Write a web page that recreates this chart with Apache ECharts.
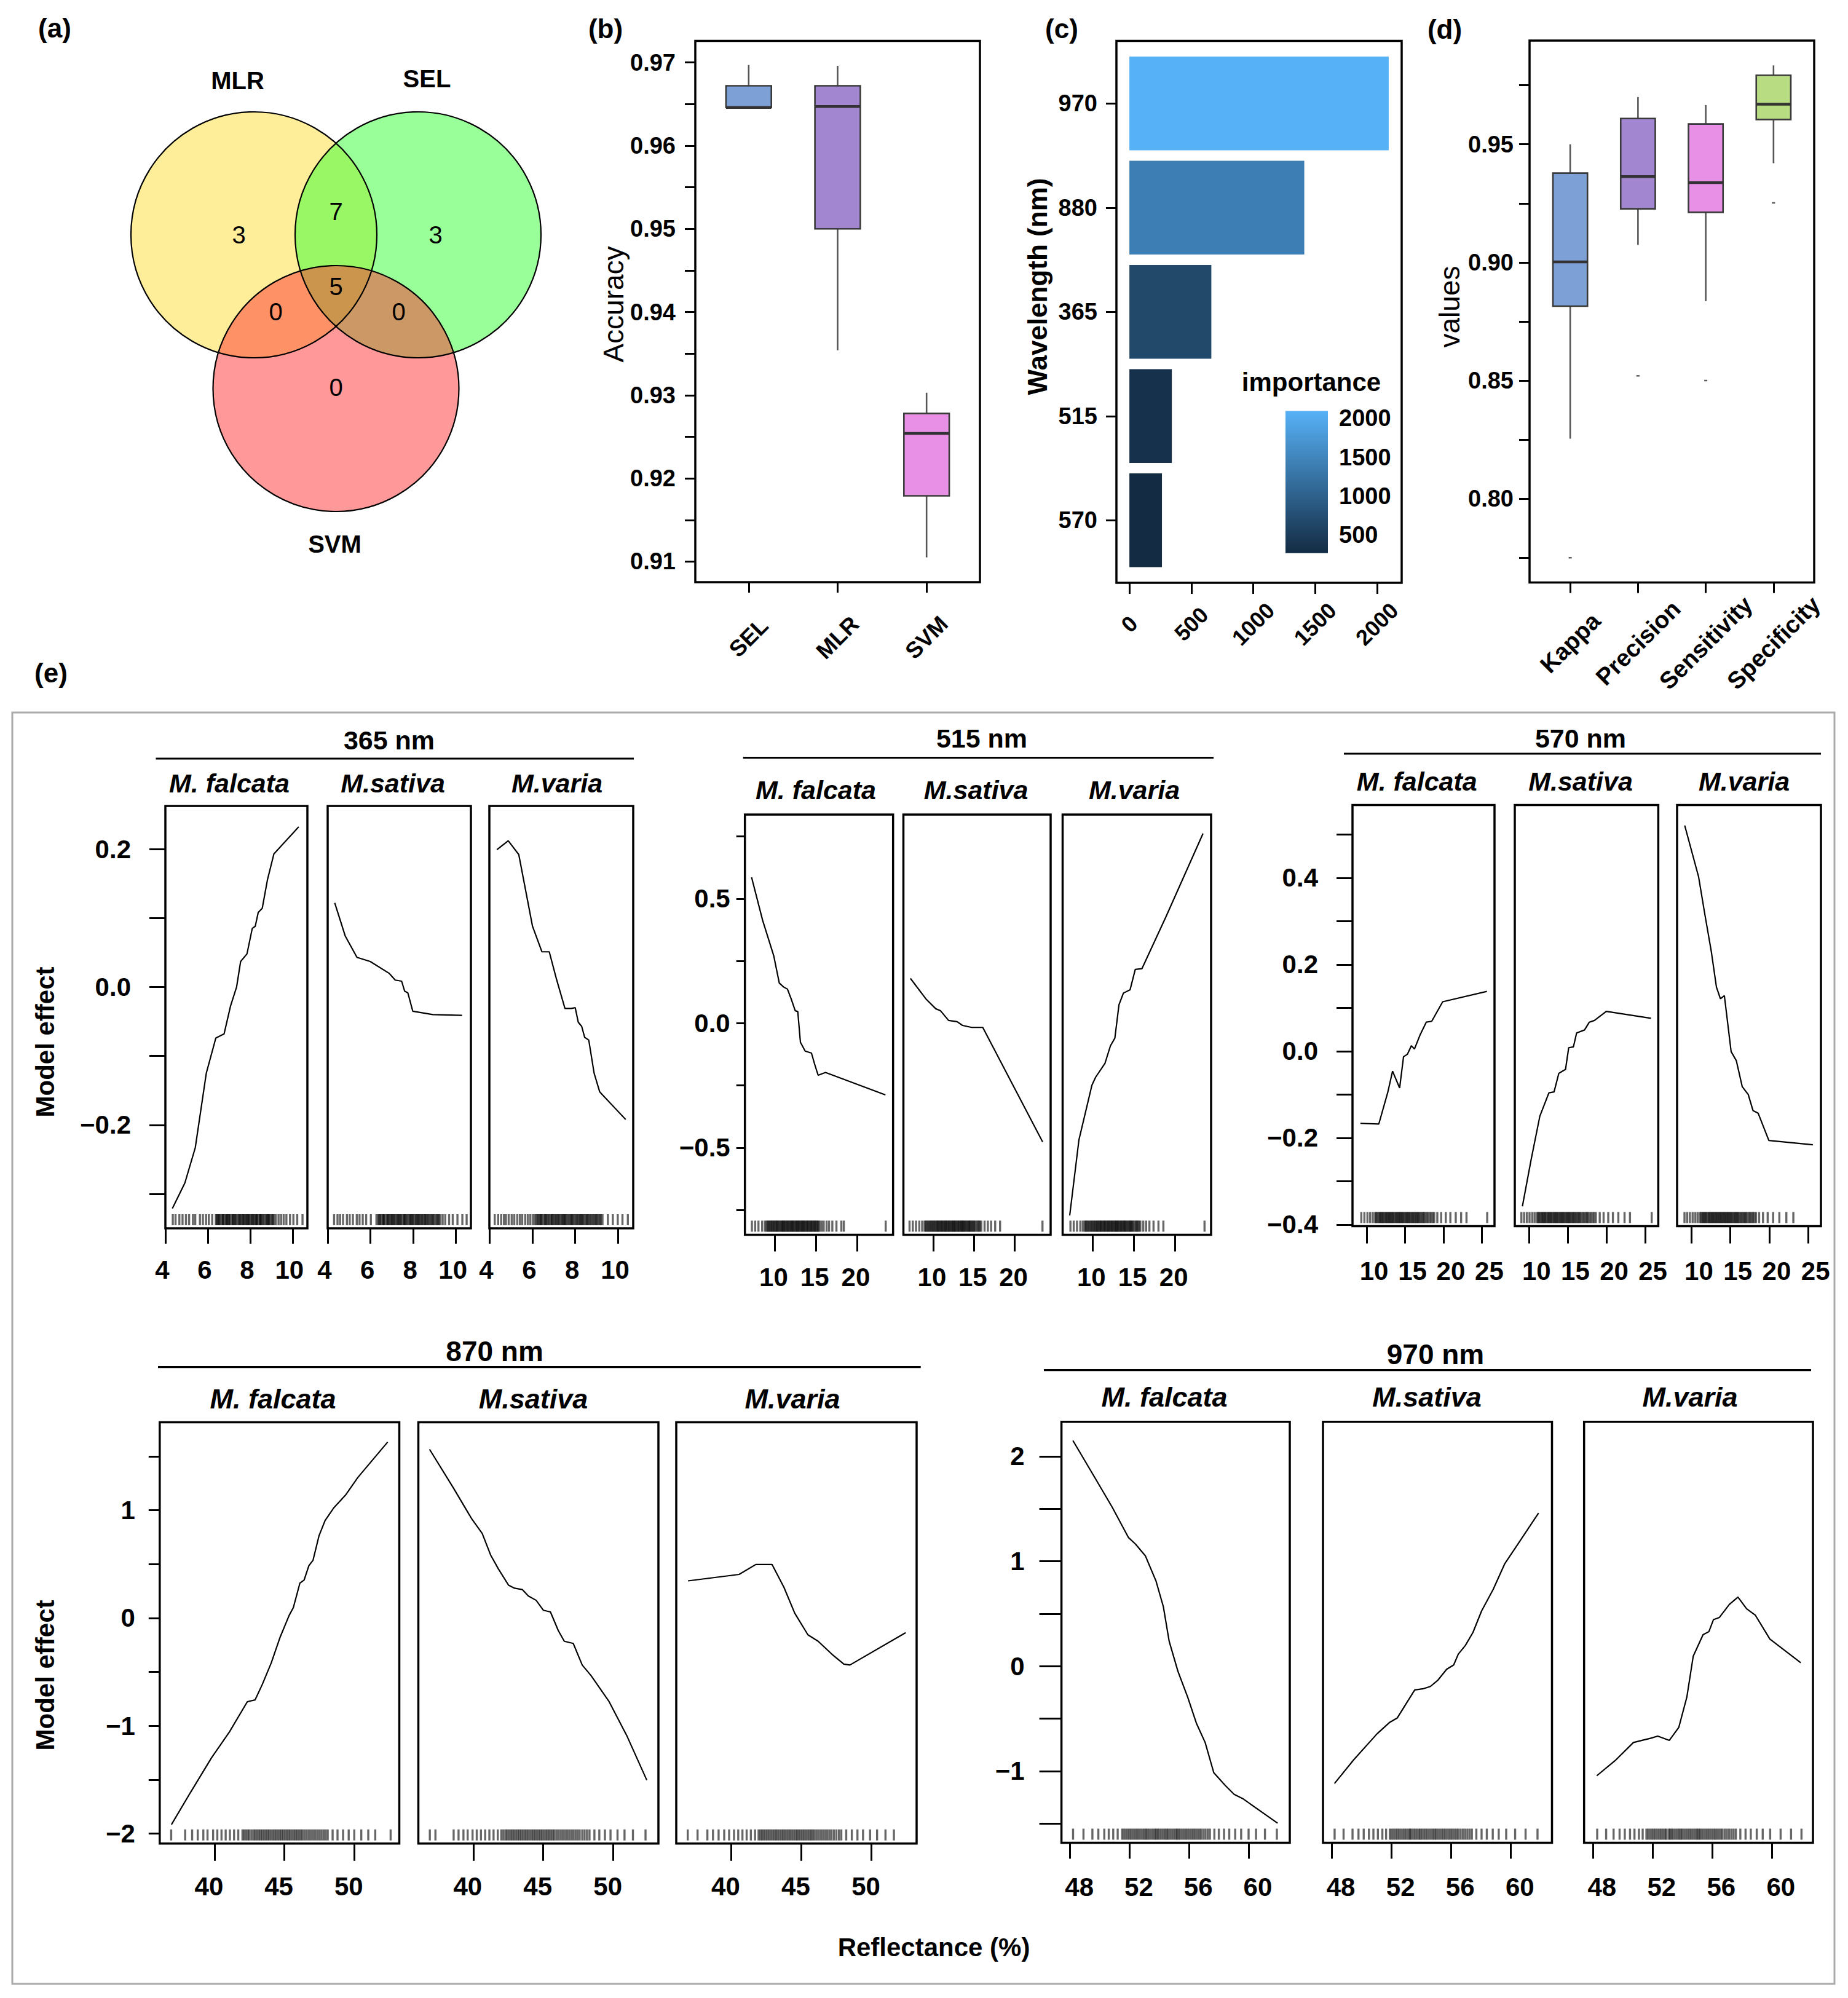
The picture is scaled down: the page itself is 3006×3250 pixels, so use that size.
<!DOCTYPE html>
<html><head><meta charset="utf-8">
<script src="https://cdn.jsdelivr.net/npm/echarts@6/dist/echarts.min.js"></script>
<style>html,body{margin:0;padding:0;background:#fff}#c{width:3006px;height:3250px}</style>
</head><body><div id="c"></div>
<script>
// ================= DATA =================
// (a) Venn
const vennSets = ['MLR', 'SEL', 'SVM'];
// MLR only, MLR∩SEL, SEL only, all three, MLR∩SVM, SEL∩SVM, SVM only
const vennCounts = [3, 7, 3, 5, 0, 0, 0];
const vennCircleLayout = [[-0.6675, 0, 1], [0.6675, 0, 1], [0, -1.25, 1]];
const vennSetLabelPos = [[-0.80, 1.255], [0.74, 1.27], [-0.01, -2.515]];
const vennCountPos = [[-0.79, 0], [0, 0.19], [0.81, 0], [0, -0.42], [-0.49, -0.625], [0.51, -0.625], [0, -1.24]];

// (b) Accuracy boxplots: [min, q1, median, q3, max]
const accModels = ['SEL', 'MLR', 'SVM'];
const accStats = [
  [0.9646, 0.9646, 0.9646, 0.9672, 0.9697],
  [0.9354, 0.9500, 0.9647, 0.9672, 0.9696],
  [0.9105, 0.9179, 0.9254, 0.9278, 0.9303]
];
const accTicks = [0.91, 0.915, 0.92, 0.925, 0.93, 0.935, 0.94, 0.945, 0.95, 0.955, 0.96, 0.965, 0.97];
const accLabels = [0.91, 0.92, 0.93, 0.94, 0.95, 0.96, 0.97];

// (c) importance
const impWavelengths = ['970', '880', '365', '515', '570'];
const impValues = [2095, 1413, 662, 343, 263];
const impTicks = [0, 500, 1000, 1500, 2000];
const impLegendTicks = [500, 1000, 1500, 2000];

// (d) metrics
const metricNames = ['Kappa', 'Precision', 'Sensitivity', 'Specificity'];
const metricStats = [
  [0.8254, 0.8815, 0.9002, 0.9378, 0.9500],
  [0.9074, 0.9227, 0.9363, 0.9609, 0.9700],
  [0.8836, 0.9212, 0.9338, 0.9586, 0.9666],
  [0.9420, 0.9605, 0.9670, 0.9792, 0.9834]
];
const metricOutliers = [[1, 0.775], [2, 0.852], [3, 0.850], [4, 0.9252]];
const metricTicks = [0.775, 0.8, 0.825, 0.85, 0.875, 0.9, 0.925, 0.95, 0.975];
const metricLabels = [0.8, 0.85, 0.9, 0.95];

// (e) partial dependence
const bandTitles = ['365 nm', '515 nm', '570 nm', '870 nm', '970 nm'];
const speciesNames = ['M. falcata', 'M.sativa', 'M.varia'];
const eXTicks = [[4, 6, 8, 10], [10, 15, 20], [10, 15, 20, 25], [40, 45, 50], [48, 52, 56, 60]];
const eYTicks = [
  [-0.3, -0.2, -0.1, 0, 0.1, 0.2],
  [-0.75, -0.5, -0.25, 0, 0.25, 0.5, 0.75],
  [-0.4, -0.3, -0.2, -0.1, 0, 0.1, 0.2, 0.3, 0.4, 0.5],
  [-2, -1.5, -1, -0.5, 0, 0.5, 1, 1.5],
  [-1.5, -1, -0.5, 0, 0.5, 1, 1.5, 2]
];
const eYLabels = [[-0.2, 0, 0.2], [-0.5, 0, 0.5], [-0.4, -0.2, 0, 0.2, 0.4], [-2, -1, 0, 1], [-1, 0, 1, 2]];

const pd365Falcata = [[4.33,-0.321],[4.92,-0.284],[5.41,-0.233],[5.93,-0.125],[6.38,-0.074],[6.77,-0.068],[7.07,-0.028],[7.36,0.0],[7.55,0.037],[7.85,0.048],[8.10,0.085],[8.24,0.088],[8.38,0.108],[8.57,0.114],[8.82,0.156],[9.12,0.193],[10.29,0.232]];
const pd365Sativa = [[4.33,0.122],[4.82,0.074],[5.37,0.043],[5.99,0.037],[6.87,0.020],[7.16,0.010],[7.46,0.0085],[7.60,-0.006],[7.75,-0.0085],[7.98,-0.035],[8.92,-0.040],[10.29,-0.041]];
const pd365Varia = [[4.35,0.199],[4.88,0.212],[5.37,0.192],[6.01,0.088],[6.45,0.051],[6.79,0.051],[7.13,0.011],[7.52,-0.031],[7.81,-0.031],[8.0,-0.030],[8.14,-0.051],[8.30,-0.057],[8.44,-0.073],[8.63,-0.077],[8.88,-0.125],[9.14,-0.152],[10.35,-0.192]];
const pd515Falcata = [[7.16,0.586],[8.51,0.413],[9.86,0.271],[10.54,0.161],[11.08,0.145],[11.53,0.137],[11.98,0.098],[12.48,0.050],[12.79,0.047],[13.11,-0.076],[13.69,-0.112],[14.46,-0.120],[14.82,-0.162],[15.27,-0.209],[16.17,-0.198],[23.47,-0.288]];
const pd515Sativa = [[7.21,0.180],[9.10,0.098],[10.32,0.058],[10.90,0.050],[11.89,0.011],[12.93,0.006],[13.60,-0.009],[14.73,-0.017],[16.08,-0.017],[23.42,-0.477]];
const pd515Varia = [[7.21,-0.772],[8.33,-0.469],[9.91,-0.249],[10.36,-0.217],[11.49,-0.162],[12.16,-0.091],[12.70,-0.060],[13.20,0.074],[13.74,0.121],[14.55,0.134],[15.18,0.216],[15.99,0.219],[18.92,0.428],[23.42,0.762]];
const pd570Falcata = [[9.18,-0.1665],[11.58,-0.168],[12.76,-0.094],[13.37,-0.046],[14.29,-0.085],[14.80,-0.0127],[15.31,-0.007],[15.82,0.0127],[16.22,0.005],[16.94,0.037],[17.76,0.067],[18.47,0.069],[19.90,0.114],[25.66,0.138]];
const pd570Sativa = [[9.13,-0.358],[10.26,-0.250],[11.38,-0.150],[12.55,-0.096],[13.21,-0.094],[13.83,-0.051],[14.69,-0.042],[15.10,0.008],[15.71,0.010],[16.12,0.042],[17.14,0.049],[17.76,0.067],[18.42,0.071],[19.95,0.092],[25.71,0.076]];
const pd570Varia = [[9.13,0.521],[10.92,0.402],[11.68,0.320],[12.55,0.230],[13.21,0.148],[13.72,0.121],[14.23,0.128],[15.10,-0.001],[15.77,-0.022],[16.53,-0.082],[17.30,-0.100],[17.91,-0.137],[18.57,-0.143],[19.95,-0.206],[25.61,-0.216]];
const pd870Falcata = [[36.92,-1.916],[38.29,-1.616],[39.79,-1.296],[41.07,-1.056],[42.35,-0.776],[42.9,-0.76],[43.42,-0.616],[44.06,-0.416],[44.70,-0.176],[45.34,0.024],[45.64,0.096],[46.11,0.324],[46.41,0.352],[46.75,0.484],[47.05,0.536],[47.48,0.764],[47.91,0.904],[48.55,1.024],[49.40,1.144],[50.26,1.304],[52.39,1.632]];
const pd870Sativa = [[36.88,1.564],[38.59,1.204],[39.87,0.924],[40.64,0.784],[41.24,0.584],[41.79,0.456],[42.52,0.304],[42.95,0.276],[43.5,0.264],[43.93,0.204],[44.49,0.164],[45.0,0.072],[45.51,0.056],[46.07,-0.116],[46.5,-0.216],[47.14,-0.236],[47.78,-0.436],[48.42,-0.536],[49.7,-0.776],[50.98,-1.096],[52.39,-1.504]];
const pd870Varia = [[36.92,0.344],[40.56,0.404],[41.75,0.496],[42.91,0.496],[43.76,0.284],[44.53,0.044],[45.47,-0.156],[46.2,-0.216],[47.18,-0.336],[48.03,-0.428],[48.46,-0.436],[52.44,-0.136]];
const pd970Falcata = [[48.19,2.150],[49.48,1.841],[50.84,1.513],[51.93,1.225],[52.40,1.163],[53.06,1.052],[53.77,0.814],[54.27,0.567],[54.66,0.238],[55.25,-0.049],[55.91,-0.296],[56.49,-0.543],[57.08,-0.727],[57.66,-1.015],[58.44,-1.138],[59.03,-1.221],[59.61,-1.262],[61.95,-1.496]];
const pd970Sativa = [[48.19,-1.118],[49.48,-0.892],[51.04,-0.645],[51.9,-0.534],[52.4,-0.493],[52.99,-0.358],[53.57,-0.226],[54.16,-0.214],[54.62,-0.193],[55.13,-0.132],[55.71,-0.029],[56.18,0.012],[56.49,0.115],[56.96,0.197],[57.47,0.321],[58.05,0.526],[58.83,0.732],[59.61,0.978],[60.39,1.143],[61.87,1.459]];
const pd970Varia = [[48.27,-1.044],[49.56,-0.892],[50.73,-0.727],[51.9,-0.686],[52.36,-0.666],[53.14,-0.707],[53.77,-0.584],[54.31,-0.296],[54.74,0.095],[55.40,0.300],[55.79,0.329],[56.1,0.444],[56.49,0.464],[57.16,0.588],[57.74,0.658],[58.32,0.547],[58.91,0.485],[59.88,0.259],[61.95,0.033]];

// rug values (reflectance observations): full spread + dense core
const rug365Falcata = [4.35,4.48,4.66,4.81,4.97,5.12,5.3,5.41,5.63,5.77,5.92,6.05,6.21,6.38,6.47,6.55,6.68,6.74,6.86,6.93,7.02,7.15,7.22,7.31,7.44,7.52,7.63,7.7,7.81,7.89,7.97,8.08,8.16,8.27,8.33,8.45,8.51,8.62,8.74,8.83,8.9,9.03,9.12,9.21,9.34,9.46,9.58,9.71,9.88,10.04,10.22,10.47];
const rug365FalcataCore = [6.42,6.51,6.6,6.71,6.79,6.9,6.98,7.06,7.18,7.27,7.36,7.48,7.57,7.66,7.75,7.85,7.93,8.03,8.12,8.21,8.3,8.39,8.48,8.57,8.67,8.79,8.87,8.96,9.07];
const rug365Sativa = [4.3,4.46,4.58,4.72,4.9,5.03,5.18,5.36,5.49,5.64,5.8,6.02,6.28,6.36,6.45,6.57,6.63,6.77,6.85,6.96,7.04,7.13,7.25,7.33,7.42,7.55,7.61,7.73,7.84,7.92,8.01,8.13,8.22,8.3,8.41,8.52,8.6,8.71,8.82,8.93,9.05,9.16,9.27,9.38,9.5,9.68,9.85,10.07,10.3,10.5];
const rug365SativaCore = [6.41,6.5,6.61,6.7,6.81,6.9,7.0,7.09,7.19,7.29,7.38,7.47,7.58,7.67,7.78,7.88,7.97,8.07,8.17,8.26,8.36,8.46,8.56,8.66,8.77,8.88,8.98,9.1,9.21];
const rug365Varia = [4.25,4.41,4.55,4.68,4.77,4.9,5.04,5.16,5.3,5.42,5.53,5.67,5.79,5.91,6.03,6.12,6.24,6.35,6.43,6.56,6.64,6.75,6.87,6.95,7.06,7.17,7.26,7.38,7.47,7.55,7.66,7.78,7.86,7.97,8.08,8.19,8.28,8.37,8.49,8.58,8.69,8.81,8.92,9.03,9.14,9.27,9.52,9.75,9.98,10.2,10.45];
const rug365VariaCore = [6.19,6.29,6.39,6.48,6.6,6.69,6.8,6.91,7.0,7.11,7.21,7.32,7.42,7.51,7.6,7.72,7.82,7.91,8.02,8.13,8.23,8.32,8.43,8.54,8.63,8.75,8.86,8.97,9.08,9.19];
const rug515Falcata = [7.2,7.6,8.0,8.45,8.8,9.1,9.35,9.6,9.85,10.1,10.3,10.55,10.8,11.0,11.2,11.45,11.65,11.9,12.1,12.3,12.55,12.75,12.95,13.2,13.4,13.6,13.85,14.05,14.3,14.5,14.75,14.95,15.2,15.45,15.7,15.95,16.3,16.6,17.0,17.5,18.1,18.4,23.5];
const rug515FalcataCore = [9.0,9.25,9.5,9.72,9.95,10.2,10.42,10.68,10.9,11.1,11.32,11.55,11.78,12.0,12.2,12.42,12.65,12.85,13.08,13.3,13.5,13.72,13.95,14.18,14.4,14.62,14.85,15.08,15.3];
const rug515Sativa = [7.1,7.5,7.9,8.3,8.65,8.95,9.2,9.5,9.75,10.0,10.25,10.5,10.7,10.95,11.15,11.4,11.6,11.85,12.05,12.3,12.5,12.7,12.95,13.15,13.4,13.6,13.8,14.05,14.3,14.5,14.75,15.0,15.3,15.6,15.9,16.3,16.7,17.1,17.6,18.2,23.4];
const rug515SativaCore = [9.08,9.35,9.62,9.88,10.12,10.38,10.6,10.82,11.05,11.28,11.5,11.72,11.95,12.18,12.4,12.6,12.82,13.05,13.28,13.5,13.7,13.92,14.18,14.4,14.62,14.88,15.12,15.45,15.75];
const rug515Varia = [7.3,7.7,8.1,8.5,8.8,9.15,9.4,9.7,9.95,10.2,10.45,10.65,10.9,11.1,11.35,11.55,11.8,12.0,12.25,12.45,12.7,12.9,13.1,13.35,13.55,13.8,14.0,14.25,14.5,14.7,14.95,15.25,15.5,15.8,16.15,16.5,16.9,17.4,18.0,18.6,23.6];
const rug515VariaCore = [9.05,9.28,9.55,9.82,10.08,10.32,10.55,10.78,11.0,11.22,11.45,11.68,11.9,12.12,12.35,12.58,12.8,13.0,13.22,13.45,13.68,13.9,14.12,14.38,14.6,14.82,15.1,15.38,15.65];
const rug570Falcata = [9.3,9.7,10.1,10.45,10.8,11.1,11.4,11.7,11.95,12.2,12.5,12.75,13.0,13.25,13.5,13.8,14.05,14.3,14.55,14.8,15.1,15.35,15.6,15.9,16.15,16.45,16.7,17.0,17.3,17.65,18.0,18.4,18.8,19.2,19.7,20.3,20.9,21.6,22.3,23.0,25.7];
const rug570FalcataCore = [11.25,11.55,11.82,12.08,12.35,12.62,12.88,13.12,13.38,13.65,13.92,14.18,14.42,14.68,14.95,15.22,15.48,15.75,16.02,16.3,16.58,16.85,17.15,17.48,17.82,18.2,18.6];
const rug570Sativa = [9.0,9.35,9.7,10.05,10.4,10.7,11.0,11.3,11.6,11.85,12.1,12.4,12.65,12.9,13.2,13.45,13.7,14.0,14.25,14.5,14.8,15.05,15.3,15.6,15.85,16.15,16.45,16.75,17.1,17.45,17.8,18.2,18.6,19.1,19.6,20.2,20.8,21.5,22.3,23.0,25.8];
const rug570SativaCore = [11.15,11.45,11.72,11.98,12.25,12.52,12.78,13.05,13.32,13.58,13.85,14.12,14.38,14.65,14.92,15.18,15.45,15.72,16.0,16.3,16.6,16.92,17.28,17.62,18.0,18.4];
const rug570Varia = [9.1,9.45,9.8,10.15,10.5,10.8,11.1,11.4,11.65,11.9,12.2,12.45,12.7,12.95,13.2,13.45,13.7,13.95,14.2,14.45,14.7,14.95,15.2,15.5,15.75,16.0,16.3,16.6,16.9,17.2,17.55,17.9,18.3,18.7,19.2,19.8,20.5,21.3,22.2,23.1];
const rug570VariaCore = [11.25,11.52,11.78,12.05,12.32,12.58,12.82,13.08,13.32,13.58,13.82,14.08,14.32,14.58,14.82,15.08,15.35,15.62,15.88,16.15,16.45,16.75,17.05,17.38,17.72,18.1];
const rug870Falcata = [36.9,37.9,38.4,38.8,39.2,39.5,39.9,40.2,40.5,40.8,41.1,41.4,41.7,42.0,42.25,42.5,42.8,43.05,43.3,43.55,43.8,44.05,44.3,44.55,44.8,45.05,45.3,45.55,45.8,46.05,46.3,46.6,46.9,47.2,47.5,47.8,48.1,48.45,48.8,49.2,49.6,50.0,50.5,51.0,51.5,52.6];
const rug870FalcataCore = [42.12,42.38,42.65,42.92,43.18,43.42,43.68,43.92,44.18,44.42,44.68,44.92,45.18,45.42,45.68,45.92,46.18,46.45,46.75,47.05,47.35,47.65,47.95];
const rug870Sativa = [36.9,37.3,38.6,38.95,39.3,39.6,39.95,40.25,40.55,40.85,41.15,41.45,41.75,42.0,42.3,42.55,42.8,43.05,43.3,43.55,43.8,44.05,44.3,44.55,44.8,45.05,45.3,45.55,45.8,46.1,46.4,46.7,47.0,47.3,47.6,47.95,48.3,48.65,49.0,49.4,49.8,50.3,50.8,51.4,52.3];
const rug870SativaCore = [42.15,42.42,42.68,42.92,43.18,43.42,43.68,43.92,44.18,44.42,44.68,44.92,45.18,45.42,45.68,45.95,46.25,46.55,46.85,47.15,47.45,47.78,48.12];
const rug870Varia = [36.9,37.6,38.3,38.7,39.1,39.5,39.85,40.2,40.5,40.8,41.1,41.4,41.7,41.95,42.2,42.45,42.7,42.95,43.2,43.45,43.7,43.95,44.2,44.45,44.7,44.95,45.2,45.45,45.7,45.95,46.25,46.55,46.85,47.15,47.5,47.85,48.2,48.6,49.0,49.4,49.9,50.4,51.0,51.6];
const rug870VariaCore = [42.08,42.32,42.58,42.82,43.08,43.32,43.58,43.82,44.08,44.32,44.58,44.82,45.08,45.32,45.58,45.82,46.1,46.4,46.7,47.0,47.32,47.68];
const rug970Falcata = [48.2,48.9,49.5,49.9,50.3,50.6,50.9,51.2,51.5,51.75,52.0,52.25,52.5,52.75,53.0,53.2,53.45,53.7,53.9,54.15,54.4,54.6,54.85,55.1,55.3,55.55,55.8,56.05,56.3,56.55,56.8,57.1,57.4,57.7,58.0,58.35,58.7,59.1,59.5,60.0,60.5,61.1,61.9];
const rug970FalcataCore = [51.62,51.88,52.12,52.38,52.62,52.88,53.1,53.32,53.58,53.8,54.02,54.28,54.5,54.72,54.98,55.2,55.42,55.68,55.92,56.18,56.42,56.68,56.95,57.25];
const rug970Sativa = [48.2,48.8,49.4,49.8,50.15,50.5,50.8,51.1,51.4,51.65,51.9,52.15,52.4,52.65,52.9,53.15,53.35,53.6,53.85,54.05,54.3,54.55,54.8,55.0,55.25,55.5,55.75,56.0,56.25,56.5,56.8,57.1,57.4,57.7,58.05,58.4,58.8,59.2,59.7,60.3,61.0,61.8];
const rug970SativaCore = [52.02,52.28,52.52,52.78,53.02,53.25,53.48,53.72,53.95,54.18,54.42,54.68,54.9,55.12,55.38,55.62,55.88,56.12,56.38,56.65,56.95,57.25];
const rug970Varia = [48.3,48.9,49.4,49.8,50.15,50.5,50.8,51.1,51.35,51.6,51.85,52.1,52.35,52.6,52.85,53.1,53.3,53.55,53.8,54.0,54.25,54.5,54.75,55.0,55.2,55.45,55.7,55.95,56.2,56.45,56.7,57.0,57.3,57.6,57.9,58.25,58.6,59.0,59.4,59.9,60.6,61.3,62.0];
const rug970VariaCore = [51.72,51.98,52.22,52.48,52.72,52.95,53.2,53.42,53.68,53.9,54.12,54.38,54.62,54.88,55.1,55.32,55.58,55.82,56.08,56.32,56.58,56.85,57.15,57.45];

// ================= LAYOUT / STYLE =================
const FONT = '"Liberation Sans", Arial, Helvetica, sans-serif';
const vennFills = ['rgba(255,221,51,0.5)', 'rgba(51,255,51,0.5)', 'rgba(255,51,51,0.5)'];
const accColors = ['#7DA0D6', '#A287D0', '#E790E5'];
const metricColors = ['#7DA0D6', '#A287D0', '#E790E5', '#B8DC82'];
const BOX_W = 0.51;

const pdCurves = [
  [pd365Falcata, pd365Sativa, pd365Varia],
  [pd515Falcata, pd515Sativa, pd515Varia],
  [pd570Falcata, pd570Sativa, pd570Varia],
  [pd870Falcata, pd870Sativa, pd870Varia],
  [pd970Falcata, pd970Sativa, pd970Varia]
];
const pdRugs = [
  [rug365Falcata.concat(rug365FalcataCore), rug365Sativa.concat(rug365SativaCore), rug365Varia.concat(rug365VariaCore)],
  [rug515Falcata.concat(rug515FalcataCore), rug515Sativa.concat(rug515SativaCore), rug515Varia.concat(rug515VariaCore)],
  [rug570Falcata.concat(rug570FalcataCore), rug570Sativa.concat(rug570SativaCore), rug570Varia.concat(rug570VariaCore)],
  [rug870Falcata.concat(rug870FalcataCore), rug870Sativa.concat(rug870SativaCore), rug870Varia.concat(rug870VariaCore)],
  [rug970Falcata.concat(rug970FalcataCore), rug970Sativa.concat(rug970SativaCore), rug970Varia.concat(rug970VariaCore)]
];
const E_LAYOUT = [
  {top:1311,bottom:1998,frames:[[269,500],[533,766],[796,1030]],x:[4.0,10.7],y:[-0.3497,0.2624],dec:1,yTickLen:26,yMargin:56,xTickLen:25,xMargin:67,xShift:-5,titleX:633,titleY:1204,lineX:[253.5,1031],lineY:1234,specX:[373,639,906],specY:1274,big:false},
  {top:1325,bottom:2008.6,frames:[[1211.7,1452.7],[1469.5,1709],[1728.5,1970]],x:[6.35,24.4],y:[-0.85,0.838],dec:1,yTickLen:14,yMargin:24,xTickLen:27,xMargin:69,xShift:-2,titleX:1597,titleY:1200.6,lineX:[1208.7,1974],lineY:1232.5,specX:[1327,1587.6,1845],specY:1285,big:false},
  {top:1309.6,bottom:1994.6,frames:[[2200,2431],[2464,2697.4],[2728,2962]],x:[8.15,26.65],y:[-0.404,0.568],dec:1,yTickLen:26,yMargin:56,xTickLen:28,xMargin:73,xShift:12,titleX:2571,titleY:1200.6,lineX:[2186,2962],lineY:1226,specX:[2304.8,2571,2837],specY:1270.7,big:false},
  {top:2313.5,bottom:2998.8,frames:[[259.8,649.5],[680.5,1071],[1100,1491]],x:[36.08,53.22],y:[-2.092,1.815],dec:0,yTickLen:18,yMargin:40,xTickLen:28,xMargin:70,xShift:-9,titleX:804.6,titleY:2197.7,lineX:[257,1497.7],lineY:2223.7,specX:[444,867.6,1289],specY:2275,big:true},
  {top:2312.7,bottom:2997.4,frames:[[1726.6,2098],[2152,2524.5],[2576.7,2949]],x:[47.42,62.77],y:[-1.682,2.329],dec:0,yTickLen:36,yMargin:60,xTickLen:26,xMargin:72,xShift:15,titleX:2335,titleY:2202.6,lineX:[1698,2946],lineY:2228.6,specX:[1894,2321,2749],specY:2272.8,big:true}
];

// ================= BUILD =================
const chart = echarts.init(document.getElementById('c'), null, {renderer: 'svg', width: 3006, height: 3250});
const grids = [], xAxes = [], yAxes = [], series = [], graphics = [];

function addGrid(g) {
  grids.push(Object.assign({outerBoundsMode: 'none', containLabel: false, show: false}, g));
  return grids.length - 1;
}
function frameGrid(left, top, right, bottom) {
  return addGrid({left, top, width: right - left, height: bottom - top, show: true,
    borderColor: '#000', borderWidth: 3.5, backgroundColor: 'transparent'});
}
function addX(o) { xAxes.push(o); return xAxes.length - 1; }
function addY(o) { yAxes.push(o); return yAxes.length - 1; }
const noLine = {show: false, onZero: false};
const noSplit = {show: false};
function ticks(values, len, color, inside) {
  return {show: true, customValues: values, length: len, inside: !!inside, lineStyle: {color: color || '#000', width: 3}};
}
function labels(values, fmt, size, margin, extra) {
  return Object.assign({show: true, customValues: values, formatter: fmt, margin,
    color: '#000', fontFamily: FONT, fontWeight: 'bold', fontSize: size}, extra || {});
}
function gText(text, x, y, font, rot, align) {
  graphics.push({type: 'text', x, y, rotation: rot || 0, z: 100, silent: true,
    style: {text, font, fill: '#000', align: align || 'center', verticalAlign: 'middle',
      textAlign: align || 'center', textVerticalAlign: 'middle'}});
}
function gLine(x1, y1, x2, y2, w, c) {
  graphics.push({type: 'line', z: 100, silent: true, shape: {x1, y1, x2, y2}, style: {stroke: c || '#000', lineWidth: w}});
}
const minus = (v, dec) => (v < 0 ? '\u2212' : '') + Math.abs(v).toFixed(dec);

function boxRender(colors) {
  return function (params, api) {
    const x = api.value(0);
    const pts = [1, 2, 3, 4, 5].map(k => api.coord([x, api.value(k)]));
    const hw = api.size([BOX_W, 0])[0] / 2;
    const cx = pts[0][0];
    return {type: 'group', children: [
      {type: 'line', shape: {x1: cx, y1: pts[0][1], x2: cx, y2: pts[1][1]}, style: {stroke: '#555', lineWidth: 2.6}},
      {type: 'line', shape: {x1: cx, y1: pts[3][1], x2: cx, y2: pts[4][1]}, style: {stroke: '#555', lineWidth: 2.6}},
      {type: 'rect', shape: {x: cx - hw, y: pts[3][1], width: 2 * hw, height: Math.max(pts[1][1] - pts[3][1], 0.5)},
        style: {fill: colors[params.dataIndex], stroke: '#3a3a3a', lineWidth: 2.6}},
      {type: 'line', shape: {x1: cx - hw, y1: pts[2][1], x2: cx + hw, y2: pts[2][1]}, style: {stroke: '#333', lineWidth: 4.5}}
    ]};
  };
}

// ---------- (a) Venn ----------
{
  const g = addGrid({left: 146.5, top: 82, width: 800, height: 840});
  const xa = addX({gridIndex: g, type: 'value', min: -2, max: 2, show: false});
  const ya = addY({gridIndex: g, type: 'value', min: -2.7, max: 1.5, show: false});
  series.push({type: 'custom', xAxisIndex: xa, yAxisIndex: ya, data: vennCircleLayout, silent: true, z: 2,
    encode: {x: 0, y: 1},
    renderItem(params, api) {
      const c = api.coord([api.value(0), api.value(1)]);
      const r = api.size([api.value(2), 0])[0];
      return {type: 'circle', shape: {cx: c[0], cy: c[1], r}, style: {fill: vennFills[params.dataIndex], stroke: null}};
    }});
  series.push({type: 'custom', xAxisIndex: xa, yAxisIndex: ya, data: vennCircleLayout, silent: true, z: 3,
    encode: {x: 0, y: 1},
    renderItem(params, api) {
      const c = api.coord([api.value(0), api.value(1)]);
      const r = api.size([api.value(2), 0])[0];
      return {type: 'circle', shape: {cx: c[0], cy: c[1], r}, style: {fill: 'none', stroke: '#000', lineWidth: 2.2}};
    }});
  series.push({type: 'custom', xAxisIndex: xa, yAxisIndex: ya, silent: true, z: 4,
    data: vennCountPos.map((p, i) => [p[0], p[1], vennCounts[i]]), encode: {x: 0, y: 1},
    renderItem(params, api) {
      const c = api.coord([api.value(0), api.value(1)]);
      return {type: 'text', x: c[0], y: c[1], style: {text: String(api.value(2)), font: '40px ' + FONT, fill: '#000',
        align: 'center', verticalAlign: 'middle', textAlign: 'center', textVerticalAlign: 'middle'}};
    }});
  series.push({type: 'custom', xAxisIndex: xa, yAxisIndex: ya, silent: true, z: 4,
    data: vennSetLabelPos.map((p, i) => [p[0], p[1], i]), encode: {x: 0, y: 1},
    renderItem(params, api) {
      const c = api.coord([api.value(0), api.value(1)]);
      return {type: 'text', x: c[0], y: c[1], style: {text: vennSets[params.dataIndex], font: 'bold 40px ' + FONT, fill: '#000',
        align: 'center', verticalAlign: 'middle', textAlign: 'center', textVerticalAlign: 'middle'}};
    }});
}

// ---------- (b) Accuracy ----------
{
  const g = frameGrid(1131, 66.6, 1594, 947);
  const xa = addX({gridIndex: g, type: 'value', min: 0.4, max: 3.6, axisLine: noLine, splitLine: noSplit,
    axisTick: ticks([1, 2, 3], 17),
    axisLabel: labels([1, 2, 3], v => accModels[Math.round(v) - 1], 37, 90, {rotate: 45, align: 'center', verticalAlign: 'middle'})});
  const ya = addY({gridIndex: g, type: 'value', min: 0.90752, max: 0.97259, axisLine: noLine, splitLine: noSplit,
    axisTick: ticks(accTicks, 17),
    axisLabel: labels(accLabels, v => v.toFixed(2), 38, 32)});
  series.push({type: 'custom', xAxisIndex: xa, yAxisIndex: ya, silent: true, z: 3,
    data: accStats.map((s, i) => [i + 1].concat(s)), encode: {x: 0, y: [1, 2, 3, 4, 5]},
    renderItem: boxRender(accColors)});
}

// ---------- (c) importance ----------
let barSeriesIndex;
const impMin = Math.min(...impValues), impMax = Math.max(...impValues);
{
  const g = frameGrid(1816, 66.6, 2280, 948);
  const xa = addX({gridIndex: g, type: 'value', min: -104.75, max: 2199.75, axisLine: noLine, splitLine: noSplit,
    axisTick: ticks(impTicks, 18),
    axisLabel: labels(impTicks, v => String(v), 36, 67, {rotate: 45, align: 'center', verticalAlign: 'middle'})});
  const ya = addY({gridIndex: g, type: 'value', min: 0.4, max: 5.6, inverse: true, axisLine: noLine, splitLine: noSplit,
    axisTick: ticks([1, 2, 3, 4, 5], 17),
    axisLabel: labels([1, 2, 3, 4, 5], v => impWavelengths[Math.round(v) - 1], 38, 31)});
  barSeriesIndex = series.length;
  series.push({type: 'custom', xAxisIndex: xa, yAxisIndex: ya, silent: true, z: 3,
    data: impValues.map((v, i) => [v, i + 1]), encode: {x: 0, y: 1},
    renderItem(params, api) {
      const p0 = api.coord([0, api.value(1)]);
      const p1 = api.coord([api.value(0), api.value(1)]);
      const h = api.size([0, 0.9])[1];
      return {type: 'rect', shape: {x: p0[0], y: p0[1] - h / 2, width: p1[0] - p0[0], height: h},
        style: {fill: api.visual('color')}};
    }});
  // colour bar legend
  const lg = addGrid({left: 2091, top: 668.5, width: 69, height: 231.3});
  const lx = addX({gridIndex: lg, type: 'value', min: 0, max: 1, show: false});
  const ly = addY({gridIndex: lg, type: 'value', position: 'right', min: impMin, max: impMax,
    axisLine: noLine, splitLine: noSplit,
    axisTick: ticks(impLegendTicks, 13, '#fff', true),
    axisLabel: labels(impLegendTicks, v => String(v), 38, 18, {align: 'left'})});
  addY({gridIndex: lg, type: 'value', position: 'left', min: impMin, max: impMax,
    axisLine: noLine, splitLine: noSplit, axisLabel: {show: false},
    axisTick: ticks(impLegendTicks, 13, '#fff', true)});
  series.push({type: 'custom', xAxisIndex: lx, yAxisIndex: ly, silent: true, z: 2,
    data: [[0, impMin, 1, impMax]], encode: {x: [0, 2], y: [1, 3]},
    renderItem(params, api) {
      const a = api.coord([api.value(0), api.value(3)]);
      const b = api.coord([api.value(2), api.value(1)]);
      return {type: 'rect', shape: {x: a[0], y: a[1], width: b[0] - a[0], height: b[1] - a[1]},
        style: {fill: {type: 'linear', x: 0, y: 1, x2: 0, y2: 0, global: false,
          colorStops: [{offset: 0, color: '#132B43'}, {offset: 1, color: '#56B1F7'}]}}};
    }});
}

// ---------- (d) metrics ----------
{
  const g = frameGrid(2488, 66, 2951, 947.6);
  const xa = addX({gridIndex: g, type: 'value', min: 0.4, max: 4.6, axisLine: noLine, splitLine: noSplit,
    axisTick: ticks([1, 2, 3, 4], 17),
    axisLabel: labels([1, 2, 3, 4], v => metricNames[Math.round(v) - 1], 39, 98, {rotate: 45, align: 'center', verticalAlign: 'middle'})});
  const ya = addY({gridIndex: g, type: 'value', min: 0.7645, max: 0.9939, axisLine: noLine, splitLine: noSplit,
    axisTick: ticks(metricTicks, 17),
    axisLabel: labels(metricLabels, v => v.toFixed(2), 38, 26)});
  series.push({type: 'custom', xAxisIndex: xa, yAxisIndex: ya, silent: true, z: 3,
    data: metricStats.map((s, i) => [i + 1].concat(s)), encode: {x: 0, y: [1, 2, 3, 4, 5]},
    renderItem: boxRender(metricColors)});
  series.push({type: 'scatter', xAxisIndex: xa, yAxisIndex: ya, silent: true, z: 4,
    data: metricOutliers, symbol: 'rect', symbolSize: [5, 2.5], itemStyle: {color: '#333'}});
}

// ---------- (e) partial dependence ----------
E_LAYOUT.forEach((L, gi) => {
  const tickSize = 42;
  const pad = L.xShift >= 0 ? [0, 0, 0, 2 * L.xShift] : [0, -2 * L.xShift, 0, 0];
  L.frames.forEach((fr, j) => {
    const g = frameGrid(fr[0], L.top, fr[1], L.bottom);
    const xa = addX({gridIndex: g, type: 'value', min: L.x[0], max: L.x[1], axisLine: noLine, splitLine: noSplit,
      axisTick: ticks(eXTicks[gi], L.xTickLen),
      axisLabel: labels(eXTicks[gi], v => String(v), tickSize, L.xMargin, {verticalAlign: 'middle', padding: pad})});
    const yo = {gridIndex: g, type: 'value', min: L.y[0], max: L.y[1], axisLine: noLine, splitLine: noSplit};
    if (j === 0) {
      yo.axisTick = ticks(eYTicks[gi], L.yTickLen);
      yo.axisLabel = labels(eYLabels[gi], v => minus(v, L.dec), tickSize, L.yMargin);
    } else {
      yo.axisTick = {show: false};
      yo.axisLabel = {show: false};
    }
    const ya = addY(yo);
    series.push({type: 'custom', xAxisIndex: xa, yAxisIndex: ya, silent: true, z: 2, clip: true,
      data: pdRugs[gi][j].map(v => [v, L.y[0]]), encode: {x: 0, y: 1},
      renderItem(params, api) {
        const p = api.coord([api.value(0), api.value(1)]);
        const bottom = params.coordSys.y + params.coordSys.height;
        return {type: 'line', shape: {x1: p[0], y1: bottom - 5, x2: p[0], y2: bottom - 23},
          style: {stroke: 'rgba(0,0,0,0.6)', lineWidth: 3.4}};
      }});
    series.push({type: 'line', xAxisIndex: xa, yAxisIndex: ya, data: pdCurves[gi][j], silent: true, z: 3,
      showSymbol: false, symbol: 'none', clip: true, lineStyle: {color: '#000', width: 2.2}});
    gText(speciesNames[j], L.specX[j], L.specY, 'italic bold ' + (L.big ? 45 : 43) + 'px ' + FONT);
  });
  gText(bandTitles[gi], L.titleX, L.titleY, 'bold ' + (L.big ? 46 : 43) + 'px ' + FONT);
  gLine(L.lineX[0], L.lineY, L.lineX[1], L.lineY, 3.2);
});

// ---------- decorations / titles ----------
graphics.push({type: 'rect', z: 0, silent: true, shape: {x: 20, y: 1159, width: 2964, height: 2068},
  style: {fill: 'none', stroke: '#aaaaaa', lineWidth: 3}});
gText('(a)', 89, 45, 'bold 44px ' + FONT);
gText('(b)', 985, 46, 'bold 44px ' + FONT);
gText('(c)', 1727, 46, 'bold 44px ' + FONT);
gText('(d)', 2350, 47, 'bold 44px ' + FONT);
gText('(e)', 83, 1094, 'bold 44px ' + FONT);
gText('Accuracy', 998, 495, '46px ' + FONT, Math.PI / 2);
gText('Wavelength (nm)', 1687, 466, 'bold 44px ' + FONT, Math.PI / 2);
gText('values', 2358, 499, '46px ' + FONT, Math.PI / 2);
gText('importance', 2133, 621, 'bold 42px ' + FONT);
gText('Model effect', 73, 1695, 'bold 42px ' + FONT, Math.PI / 2);
gText('Model effect', 73, 2725, 'bold 42px ' + FONT, Math.PI / 2);
gText('Reflectance (%)', 1519, 3167, 'bold 42px ' + FONT);

chart.setOption({
  animation: false,
  backgroundColor: '#fff',
  grid: grids,
  xAxis: xAxes,
  yAxis: yAxes,
  visualMap: [{type: 'continuous', show: false, seriesIndex: barSeriesIndex, dimension: 0,
    min: impMin, max: impMax, inRange: {color: ['#132B43', '#56B1F7']}}],
  series,
  graphic: graphics
});
</script>
</body></html>
